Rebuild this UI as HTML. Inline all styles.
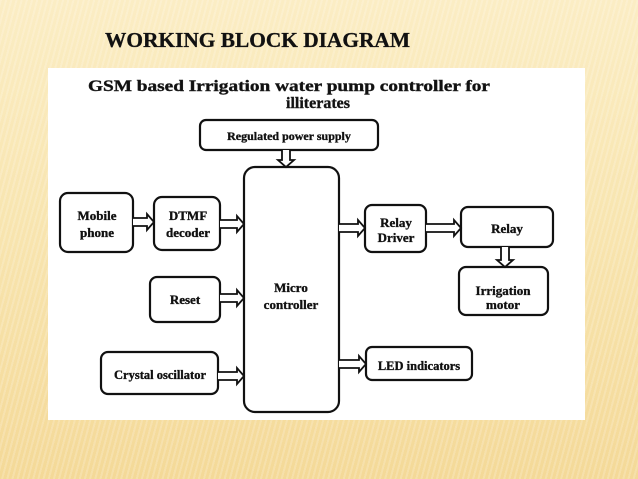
<!DOCTYPE html>
<html><head><meta charset="utf-8"><style>
html,body{margin:0;padding:0;}
body{width:638px;height:479px;overflow:hidden;position:relative;
background:linear-gradient(180deg,#fbedc4 0%,#f8e5b0 45%,#f4d998 100%);}
.stripes{position:absolute;inset:0;background:repeating-linear-gradient(105deg,rgba(255,255,255,0.18) 0 2px,rgba(0,0,0,0) 2px 5px);}
svg{position:absolute;left:0;top:0;}
</style></head><body>
<div class="stripes"></div>
<svg width="638" height="479" viewBox="0 0 638 479" font-family="Liberation Serif, serif" font-weight="bold" fill="#111">
<text x="105" y="47" font-size="21" textLength="305" lengthAdjust="spacingAndGlyphs" stroke="#111" stroke-width="0.3">WORKING BLOCK DIAGRAM</text>
<rect x="48" y="68" width="537" height="352" fill="#fff"/>
<text x="88" y="91" font-size="16" textLength="402" lengthAdjust="spacingAndGlyphs" stroke="#222" stroke-width="0.4">GSM based Irrigation water pump controller for</text>
<text x="318" y="108" font-size="16" text-anchor="middle" stroke="#222" stroke-width="0.4">illiterates</text>
<g fill="none" stroke="#111" stroke-width="2.2">
<rect x="200" y="120" width="178" height="30" rx="6"/>
<rect x="244" y="167" width="95" height="245" rx="11"/>
<rect x="60" y="193" width="73" height="59" rx="8"/>
<rect x="154" y="197" width="66" height="53" rx="8"/>
<rect x="150" y="277" width="70" height="45" rx="7"/>
<rect x="101" y="352" width="117" height="42" rx="7"/>
<rect x="365" y="205" width="61" height="47" rx="7"/>
<rect x="461" y="207" width="92" height="40" rx="7"/>
<rect x="459" y="267" width="89" height="48" rx="7"/>
<rect x="366" y="347" width="106" height="33" rx="6"/>
<g stroke-width="1.8" fill="#fff">
<polyline points="133,218 147,218 147,214 154,222 147,230 147,226 133,226"/>
<polyline points="220,220 237,220 237,216 244,224 237,232 237,228 220,228"/>
<polyline points="220,294 237,294 237,290 244,298 237,306 237,302 220,302"/>
<polyline points="218,372 237,372 237,368 244,376 237,384 237,380 218,380"/>
<polyline points="339,224 358,224 358,220 365,228 358,236 358,232 339,232"/>
<polyline points="426,224 454,224 454,220 461,228 454,236 454,232 426,232"/>
<polyline points="339,360 359,360 359,356 366,364 359,372 359,368 339,368"/>
<polyline points="282,150 282,160 278,160 286,167 294,160 290,160 290,150"/>
<polyline points="501,247 501,260 497,260 505,267 513,260 509,260 509,247"/>
</g>
</g>
<g font-size="13" text-anchor="middle" stroke="#111" stroke-width="0.35">
<text x="289" y="140" font-size="12">Regulated power supply</text>
<text x="97" y="220">Mobile</text><text x="97" y="237">phone</text>
<text x="188" y="220">DTMF</text><text x="188" y="237">decoder</text>
<text x="185" y="304">Reset</text>
<text x="160" y="379" font-size="12.5">Crystal oscillator</text>
<text x="291" y="292">Micro</text><text x="291" y="309">controller</text>
<text x="396" y="227">Relay</text><text x="396" y="242">Driver</text>
<text x="507" y="233">Relay</text>
<text x="503" y="295">Irrigation</text><text x="503" y="309">motor</text>
<text x="419" y="383" dy="-13" font-size="12.5">LED indicators</text>
</g>
</svg>
</body></html>
